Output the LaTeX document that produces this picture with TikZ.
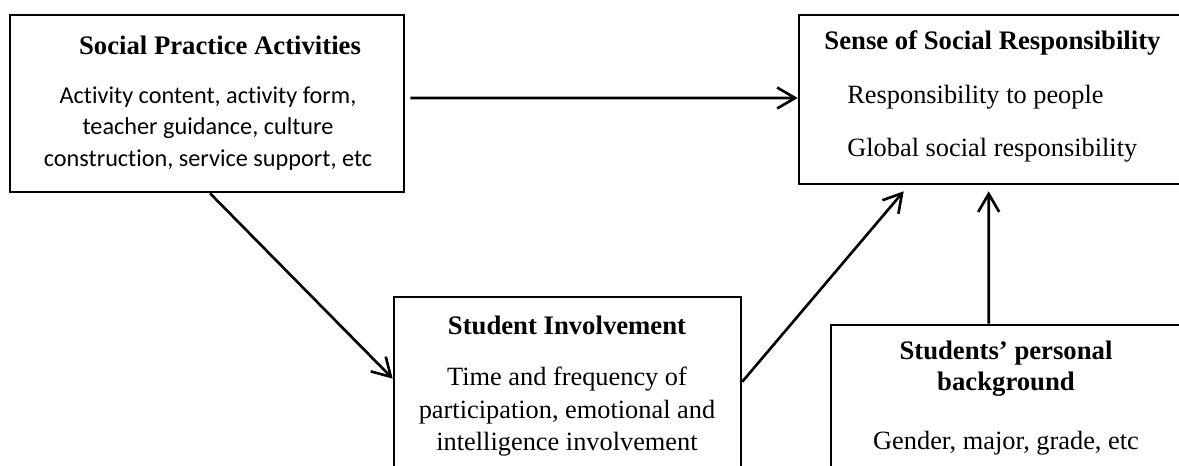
\documentclass[tikz,border=0pt]{standalone}
\usepackage{fontspec}
\setmainfont{Liberation Serif}
\newfontfamily\bodysans[Ligatures=NoCommon]{Carlito}
\usetikzlibrary{arrows.meta}
\tikzset{
    box/.style={draw, line width=1.5pt, minimum width=#1, inner sep=0pt},
    ttl/.style={font=\fontsize{15.2}{18.5}\selectfont\bfseries, align=center, inner sep=0pt},
    txt/.style={font=\fontsize{15}{18.5}\selectfont, align=center, inner sep=0pt},
    arr/.style={line width=1.5pt, -{Straight Barb[length=3.6mm,width=4.2mm,line width=1.5pt]}}
}
\begin{document}
\begin{tikzpicture}[x=0.02cm, y=-0.02cm]
        \useasboundingbox (0,0) rectangle (1179,466);
        \clip (0,0) rectangle (1179,466);

        \node[box=7.88cm, minimum height=3.54cm] (sA) at (207,103.5) {};
        \node[box=8.4cm, minimum height=3.38cm] (sB) at (1009,99.5) {};
        \node[box=6.94cm, minimum height=4cm] (sC) at (567.5,397) {};
        \node[box=7.8cm, minimum height=4cm] (sD) at (1026,425) {};

        \node[ttl] (tA) at (220,45) {Social Practice Activities};
        \node[txt, font=\fontsize{13.8}{18.1}\selectfont\bodysans] (bA) at (208,128.5) {Activity content, activity form,\\teacher guidance, culture\\construction, service support, etc};

        \node[ttl] (tB) at (992.5,43) {Sense of Social Responsibility};
        \node[txt, anchor=west] (bB1) at (847,97) {Responsibility to people};
        \node[txt, anchor=west] (bB2) at (847,150) {Global social responsibility};

        \node[ttl] (tC) at (567,325) {Student Involvement};
        \node[txt] (bC) at (567,412) {Time and frequency of\\participation, emotional and\\intelligence involvement};

        \node[ttl, font=\fontsize{15.2}{17.8}\selectfont\bfseries] (tD) at (1006,368.5) {Students’ personal\\background};
        \node[txt] (bD) at (1006,443) {Gender, major, grade, etc};

        \draw[arr] ([xshift=0.1cm,yshift=0.11cm]sA.east) -- ([yshift=0.03cm]sB.west);
        \draw[arr] ([xshift=0.06cm]sA.south) -- ([yshift=-1.66cm]sC.north west);
        \draw[arr] ([yshift=-1.72cm]sC.north east) -- ([xshift=2.12cm,yshift=-0.12cm]sB.south west);
        \draw[arr] ([xshift=3.18cm]sD.north west) -- ([xshift=3.82cm,yshift=-0.12cm]sB.south west);
    \end{tikzpicture}
\end{document}
